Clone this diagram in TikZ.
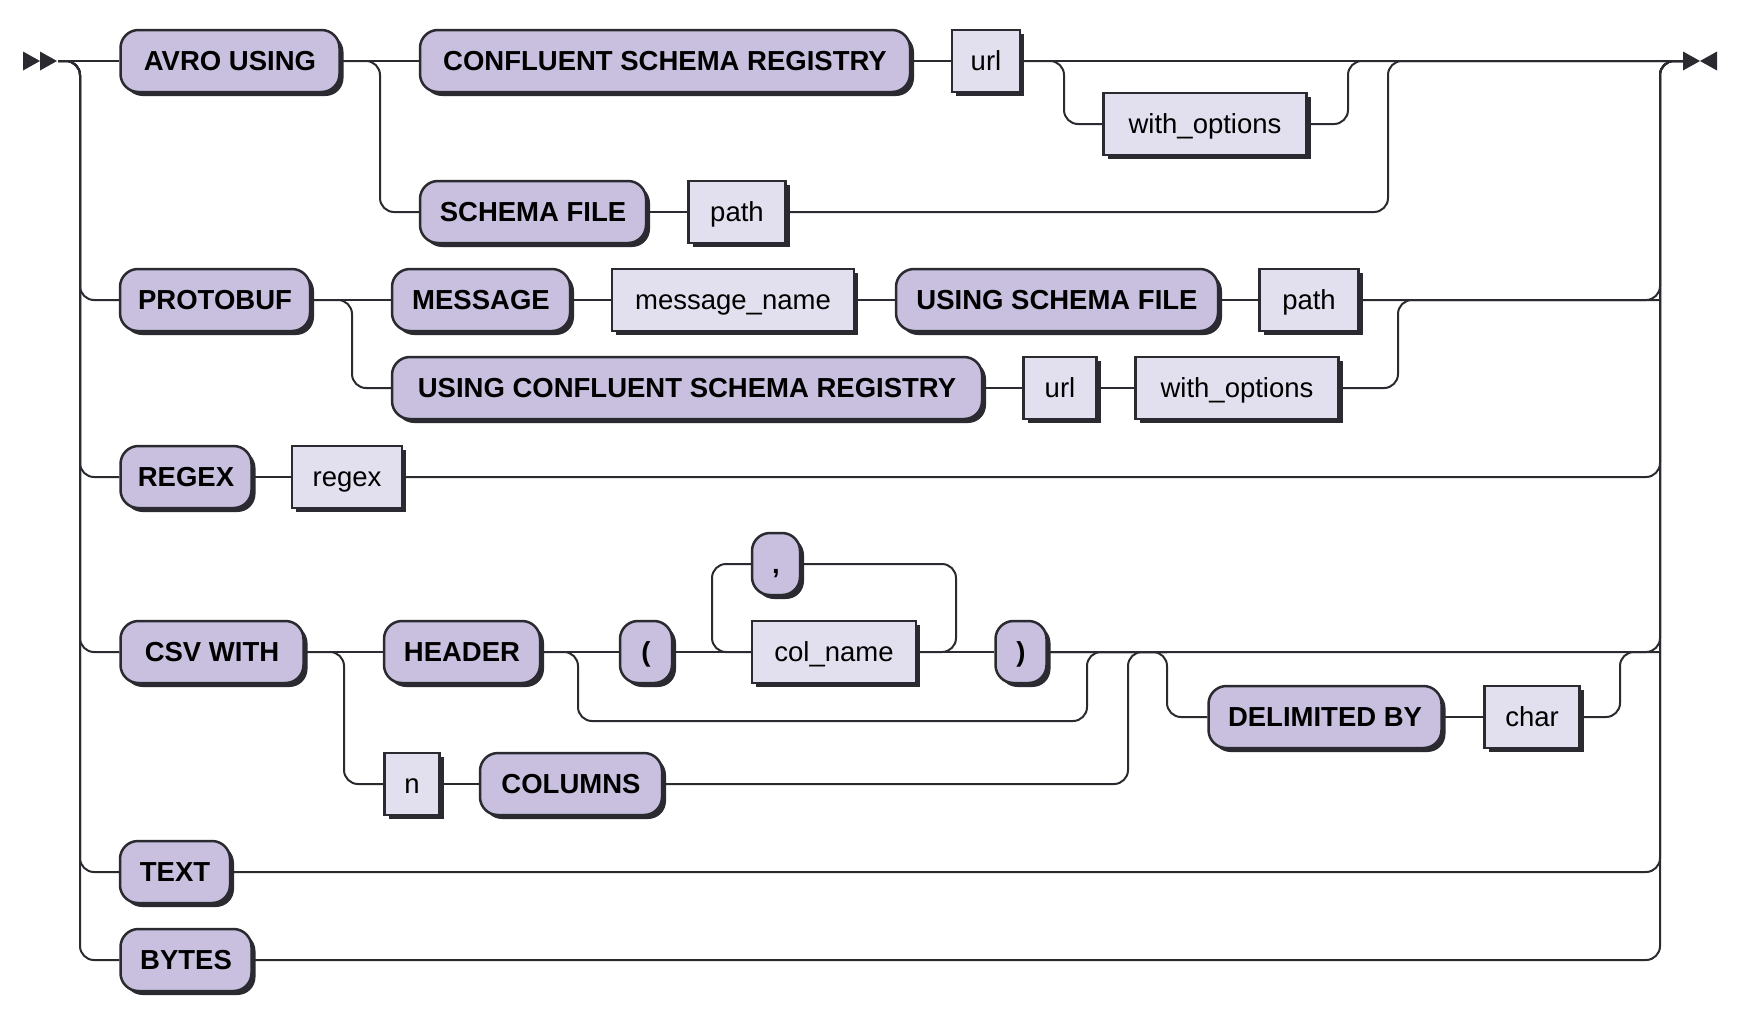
\documentclass[tikz,border=0pt]{standalone}
\usepackage{fontspec}
\newfontfamily\railfont{Liberation Sans}
\usetikzlibrary{shadows}
\definecolor{railline}{RGB}{42,42,48}
\definecolor{termfill}{RGB}{200,192,222}
\definecolor{ntfill}{RGB}{226,223,238}

\begin{document}
\begin{tikzpicture}[x=1pt, y=-1pt,
            rail/.style={draw=railline, line width=2pt, rounded corners=14pt},
            term/.style={draw=railline, line width=2.5pt, fill=termfill, rounded corners=18pt,
                minimum height=62pt, inner sep=0pt, text height=26.5pt, text depth=6.8pt,
                font=\railfont\bfseries\fontsize{27.5}{32}\selectfont,
                drop shadow={shadow xshift=4pt, shadow yshift=-4pt, fill=railline, opacity=1}},
            nterm/.style={draw=railline, line width=2.5pt, fill=ntfill,
                minimum height=62pt, inner sep=0pt, text height=26.5pt, text depth=6.8pt,
                font=\railfont\fontsize{27.5}{32}\selectfont,
                drop shadow={shadow xshift=4pt, shadow yshift=-4pt, fill=railline, opacity=1}}]
            \useasboundingbox (0,0) rectangle (1742,1018);

            \coordinate (st) at (58,61);
            \coordinate (en) at (1683,61);
            \fill[railline] (23,51.5) -- (40,61) -- (23,70.5) -- cycle;
            \fill[railline] (40,51.5) -- (57,61) -- (40,70.5) -- cycle;
            \fill[railline] (1683,51.5) -- (1700,61) -- (1683,70.5) -- cycle;
            \fill[railline] (1717,51.5) -- (1700,61) -- (1717,70.5) -- cycle;

            \coordinate (L) at (80,0);
            \coordinate (R) at (1660,0);
            \coordinate (J1) at (380,0);
            \coordinate (J2) at (1064,0);
            \coordinate (J3) at (1348,0);
            \coordinate (J4) at (1388,0);
            \coordinate (J5) at (352,0);
            \coordinate (J6) at (1398,0);
            \coordinate (J7) at (344,0);
            \coordinate (J8) at (578,0);
            \coordinate (J9) at (1087,0);
            \coordinate (J10) at (712,0);
            \coordinate (J11) at (956,0);
            \coordinate (J12) at (1167,0);
            \coordinate (J13) at (1620,0);
            \coordinate (J14) at (1128,0);
            \coordinate (B) at (0,721);

            \node[term, minimum width=219pt] (avro) at (230,61) {AVRO USING};
            \node[term, minimum width=490pt] (csr) at (665,61) {CONFLUENT SCHEMA REGISTRY};
            \node[nterm, minimum width=68pt] (url1) at (986,61) {url};
            \node[nterm, minimum width=203pt] (wo1) at (1205,124) {with\_options};
            \node[term, minimum width=226pt] (sf) at (533,212) {SCHEMA FILE};
            \node[nterm, minimum width=97pt] (p2) at (737,212) {path};

            \node[term, minimum width=190pt] (pb) at (215,300) {PROTOBUF};
            \node[term, minimum width=178pt] (msg) at (481,300) {MESSAGE};
            \node[nterm, minimum width=242pt] (mn) at (733,300) {message\_name};
            \node[term, minimum width=322pt] (usf) at (1057,300) {USING SCHEMA FILE};
            \node[nterm, minimum width=99pt] (p3) at (1309,300) {path};
            \node[term, minimum width=590pt] (ucsr) at (687,388) {USING CONFLUENT SCHEMA REGISTRY};
            \node[nterm, minimum width=73pt] (url4) at (1060,388) {url};
            \node[nterm, minimum width=203pt] (wo4) at (1237,388) {with\_options};

            \node[term, minimum width=131pt] (rx) at (186,477) {REGEX};
            \node[nterm, minimum width=110pt] (rgx) at (347,477) {regex};

            \node[term, minimum width=48pt] (comma) at (776,564) {,};
            \node[term, minimum width=183pt] (csv) at (212,652) {CSV WITH};
            \node[term, minimum width=156pt] (hdr) at (462,652) {HEADER};
            \node[term, minimum width=52pt] (lp) at (646,652) {(};
            \node[nterm, minimum width=164pt] (col) at (834,652) {col\_name};
            \node[term, minimum width=51pt] (rp) at (1021,652) {)};
            \node[term, minimum width=233pt] (dl) at (1325,717) {DELIMITED BY};
            \node[nterm, minimum width=95pt] (chr) at (1532,717) {char};
            \node[nterm, minimum width=55pt] (n) at (412,784) {n};
            \node[term, minimum width=182pt] (cols) at (571,784) {COLUMNS};

            \node[term, minimum width=110pt] (txt) at (175,872) {TEXT};
            \node[term, minimum width=131pt] (byt) at (186,960) {BYTES};

            \draw[rail] (st) -- (avro.west);
            \draw[rail] (avro.east) -- (csr.west);
            \draw[rail] (csr.east) -- (url1.west);
            \draw[rail] (url1.east) -- (en);
            \draw[rail] (url1.east) -- (J2 |- url1.east) -- (J2 |- wo1.west) -- (wo1.west);
            \draw[rail] (wo1.east) -- (J3 |- wo1.east) -- (J3 |- en) -- (en);
            \draw[rail] (avro.east) -- (J1 |- avro.east) -- (J1 |- sf.west) -- (sf.west);
            \draw[rail] (sf.east) -- (p2.west);
            \draw[rail] (p2.east) -- (J4 |- p2.east) -- (J4 |- en) -- (en);

            \draw[rail] (st) -- (L |- st) -- (L |- pb.west) -- (pb.west);
            \draw[rail] (pb.east) -- (msg.west);
            \draw[rail] (msg.east) -- (mn.west);
            \draw[rail] (mn.east) -- (usf.west);
            \draw[rail] (usf.east) -- (p3.west);
            \draw[rail] (p3.east) -- (R |- p3.east) -- (R |- en) -- (en);
            \draw[rail] (pb.east) -- (J5 |- pb.east) -- (J5 |- ucsr.west) -- (ucsr.west);
            \draw[rail] (ucsr.east) -- (url4.west);
            \draw[rail] (url4.east) -- (wo4.west);
            \draw[rail] (wo4.east) -- (J6 |- wo4.east) -- (J6 |- p3.east) -- (R |- p3.east);

            \draw[rail] (st) -- (L |- st) -- (L |- rx.west) -- (rx.west);
            \draw[rail] (rx.east) -- (rgx.west);
            \draw[rail] (rgx.east) -- (R |- rgx.east) -- (R |- en) -- (en);

            \draw[rail] (st) -- (L |- st) -- (L |- csv.west) -- (csv.west);
            \draw[rail] (csv.east) -- (hdr.west);
            \draw[rail] (hdr.east) -- (lp.west);
            \draw[rail] (lp.east) -- (col.west);
            \draw[rail] (col.east) -- (rp.west);
            \draw[rail] (col.east) -- (J11 |- col.east) -- (J11 |- comma.east) -- (comma.east);
            \draw[rail] (comma.west) -- (J10 |- comma.west) -- (J10 |- col.west) -- (col.west);
            \draw[rail] (rp.east) -- (R |- rp.east) -- (R |- en) -- (en);
            \draw[rail] (hdr.east) -- (J8 |- hdr.east) -- (J8 |- B) -- (J9 |- B) -- (J9 |- rp.east) -- (J12 |- rp.east);
            \draw[rail] (rp.east) -- (J12 |- rp.east) -- (J12 |- dl.west) -- (dl.west);
            \draw[rail] (dl.east) -- (chr.west);
            \draw[rail] (chr.east) -- (J13 |- chr.east) -- (J13 |- rp.east) -- (R |- rp.east);
            \draw[rail] (csv.east) -- (J7 |- csv.east) -- (J7 |- n.west) -- (n.west);
            \draw[rail] (n.east) -- (cols.west);
            \draw[rail] (cols.east) -- (J14 |- cols.east) -- (J14 |- rp.east) -- (J12 |- rp.east);

            \draw[rail] (st) -- (L |- st) -- (L |- txt.west) -- (txt.west);
            \draw[rail] (txt.east) -- (R |- txt.east) -- (R |- en) -- (en);
            \draw[rail] (st) -- (L |- st) -- (L |- byt.west) -- (byt.west);
            \draw[rail] (byt.east) -- (R |- byt.east) -- (R |- en) -- (en);
        \end{tikzpicture}
\end{document}
